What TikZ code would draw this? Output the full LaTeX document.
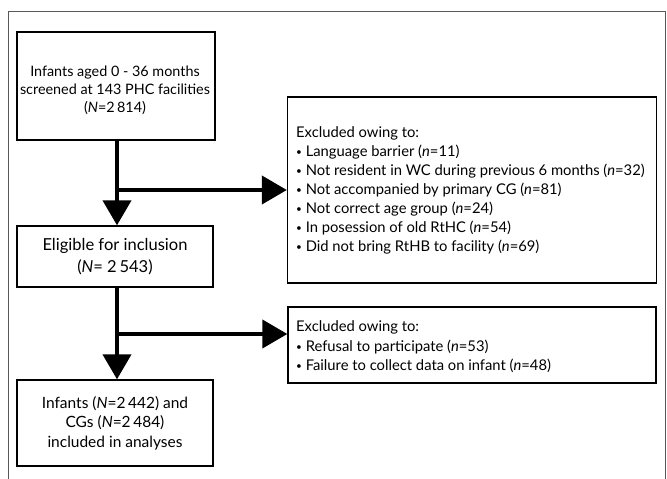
\documentclass[tikz,border=0pt]{standalone}
\usepackage{tikz}
\usepackage{fontspec}
\setmainfont{Lato}
\usetikzlibrary{arrows.meta}
\newsavebox{\measbox}
\makeatletter
\newcommand{\fitsize}[3]{% #1 macro, #2 target width, #3 text
  \sbox{\measbox}{\rmfamily\fontsize{10}{12}\selectfont #3}%
  \edef\measw{\strip@pt\wd\measbox}%
  \pgfmathsetmacro{#1}{10*#2/\measw}}
\makeatother
\AtBeginDocument{%
\fitsize{\exsize}{339}{Not resident in WC during previous 6 months (\textit{n}=32)}%
\fitsize{\bsize}{190}{screened at 143 PHC facilities}%
\fitsize{\csize}{135}{included in analyses}%
\fitsize{\esize}{145}{Eligible for inclusion}}
\newcommand{\bul}{{\fontsize{10}{10}\selectfont\raisebox{0.2ex}{•}}\ }
\tikzset{
  box/.style={draw=black,line width=1.3pt,inner sep=0pt},
  boxtext/.style={align=center,inner sep=0pt},
  exbox/.style={align=left,inner sep=0pt},
  flowarrow/.style={line width=4pt,-{Triangle[length=25pt,width=28pt]}},
  frame/.style={draw=black!65,line width=1pt}
}
\begin{document}
\begin{tikzpicture}[x=1pt,y=-1pt]
\useasboundingbox (0,0) rectangle (667,479);
\draw[frame] (8,479) -- (8,11) -- (665,11) -- (665,479);
\node[box,minimum width=198pt,minimum height=108pt] (b1) at (116,86) {};
\node[boxtext,font=\fontsize{\bsize}{18.2}\selectfont] (b1t) at (115,90)
  {Infants aged 0 - 36 months\\screened at 143 PHC facilities\\(\textit{N}=2\,814)};
\node[box,minimum width=196pt,minimum height=61pt] (b2) at (115,256.5) {};
\node[boxtext,font=\fontsize{\esize}{22}\selectfont] (b2t) at (115,257)
  {Eligible for inclusion\\(\textit{N}= 2\,543)};
\node[box,minimum width=196pt,minimum height=86pt] (b3) at (115,423) {};
\node[boxtext,font=\fontsize{\csize}{19.5}\selectfont] (b3t) at (115,423)
  {Infants (\textit{N}=2\,442) and\\CGs (\textit{N}=2\,484)\\included in analyses};
\node[box,minimum width=369pt,minimum height=186pt] (e1) at (472,190) {};
\node[exbox,anchor=west,font=\fontsize{\exsize}{19}\selectfont] (e1t) at (296,190)
  {Excluded owing to:\\
   \bul Language barrier (\textit{n}=11)\\
   \bul Not resident in WC during previous 6 months (\textit{n}=32)\\
   \bul Not accompanied by primary CG (\textit{n}=81)\\
   \bul Not correct age group (\textit{n}=24)\\
   \bul In posession of old RtHC (\textit{n}=54)\\
   \bul Did not bring RtHB to facility (\textit{n}=69)};
\node[box,minimum width=368pt,minimum height=76pt] (e2) at (472,345) {};
\node[exbox,anchor=west,font=\fontsize{\exsize}{19.5}\selectfont] (e2t) at (296,347)
  {Excluded owing to:\\
   \bul Refusal to participate (\textit{n}=53)\\
   \bul Failure to collect data on infant (\textit{n}=48)};
\coordinate (j1) at (117,190);
\coordinate (j2) at (117,334);
\draw[flowarrow] (b1.south -| j1) -- (b2.north -| j1);
\draw[flowarrow] (j1) -- (e1.west |- j1);
\draw[flowarrow] (b2.south -| j2) -- (b3.north -| j2);
\draw[flowarrow] (j2) -- (e2.west |- j2);
\end{tikzpicture}
\end{document}
